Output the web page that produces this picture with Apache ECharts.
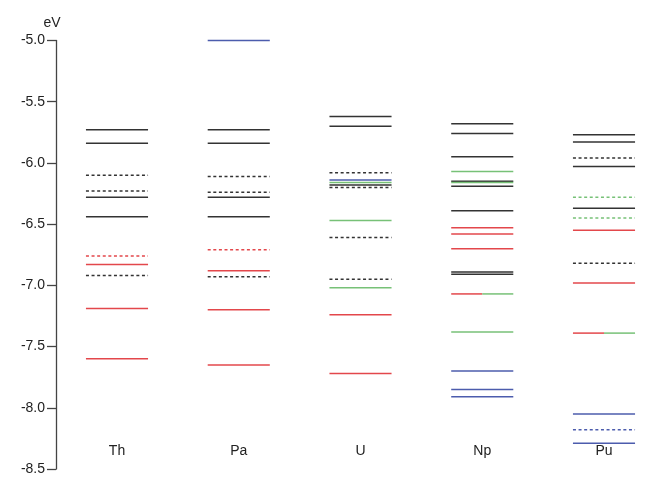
<!DOCTYPE html>
<html>
<head>
<meta charset="utf-8">
<script src="https://cdn.jsdelivr.net/npm/echarts@6/dist/echarts.min.js"></script>
<style>html,body{margin:0;padding:0;background:#fff}#c{width:654px;height:482px}</style>
</head>
<body>
<div id="c"></div>
<script>
const categories = ['Th', 'Pa', 'U', 'Np', 'Pu'];
const yTicks = [-8.5, -8.0, -7.5, -7.0, -6.5, -6.0, -5.5, -5.0];

const blackSolid = [
  ['Th', -5.73], ['Th', -5.84], ['Th', -6.28], ['Th', -6.44],
  ['Pa', -5.73], ['Pa', -5.84], ['Pa', -6.28], ['Pa', -6.44],
  ['U', -5.62], ['U', -5.70], ['U', -6.18],
  ['Np', -5.68], ['Np', -5.76], ['Np', -5.95], ['Np', -6.15], ['Np', -6.19], ['Np', -6.39], ['Np', -6.89], ['Np', -6.91],
  ['Pu', -5.77], ['Pu', -5.83], ['Pu', -6.03], ['Pu', -6.37]
];
const blackDashed = [
  ['Th', -6.10], ['Th', -6.23], ['Th', -6.92],
  ['Pa', -6.11], ['Pa', -6.24], ['Pa', -6.93],
  ['U', -6.08], ['U', -6.20], ['U', -6.61], ['U', -6.95],
  ['Pu', -5.96], ['Pu', -6.82]
];
const redSolid = [
  ['Th', -6.83], ['Th', -7.19], ['Th', -7.60],
  ['Pa', -6.88], ['Pa', -7.20], ['Pa', -7.65],
  ['U', -7.24], ['U', -7.72],
  ['Np', -6.53], ['Np', -6.58], ['Np', -6.70],
  ['Pu', -6.55], ['Pu', -6.98]
];
const redDashed = [['Th', -6.76], ['Pa', -6.71]];
const greenSolid = [
  ['U', -6.16], ['U', -6.47], ['U', -7.02],
  ['Np', -6.07], ['Np', -6.16], ['Np', -7.38]
];
const greenDashed = [['Pu', -6.28], ['Pu', -6.45]];
const blueSolid = [
  ['Pa', -5.00],
  ['U', -6.14],
  ['Np', -7.70], ['Np', -7.85], ['Np', -7.91],
  ['Pu', -8.05], ['Pu', -8.29]
];
const blueDashed = [['Pu', -8.18]];
const redGreenSplit = [['Np', -7.07], ['Pu', -7.39]];

const COLORS = { k: '#333333', r: '#e3474b', g: '#77c177', b: '#4c5cad' };
const HALF = 0.255;

function toData(arr) {
  return arr.map(d => [categories.indexOf(d[0]), d[1]]);
}

function levelSeries(name, arr, color, dashed) {
  return {
    type: 'custom',
    name: name,
    data: toData(arr),
    renderItem: function (params, api) {
      const p = api.coord([api.value(0), api.value(1)]);
      const w = api.size([1, 0])[0] * HALF;
      return {
        type: 'line',
        shape: { x1: p[0] - w, y1: p[1], x2: p[0] + w, y2: p[1] },
        style: { stroke: color, lineWidth: 1.5, lineDash: dashed ? [3, 2.6] : null }
      };
    }
  };
}

function splitSeries(name, arr, leftColor, rightColor) {
  return {
    type: 'custom',
    name: name,
    data: toData(arr),
    renderItem: function (params, api) {
      const p = api.coord([api.value(0), api.value(1)]);
      const w = api.size([1, 0])[0] * HALF;
      return {
        type: 'group',
        children: [
          { type: 'line', shape: { x1: p[0] - w, y1: p[1], x2: p[0], y2: p[1] }, style: { stroke: leftColor, lineWidth: 1.5 } },
          { type: 'line', shape: { x1: p[0], y1: p[1], x2: p[0] + w, y2: p[1] }, style: { stroke: rightColor, lineWidth: 1.5 } }
        ]
      };
    }
  };
}

const chart = echarts.init(document.getElementById('c'), null, { renderer: 'canvas' });
chart.setOption({
  animation: false,
  backgroundColor: '#ffffff',
  textStyle: { fontFamily: 'Liberation Sans, Arial, sans-serif' },
  grid: { left: 117, right: 50, top: 40.5, bottom: 13 },
  xAxis: {
    type: 'category',
    data: categories,
    boundaryGap: false,
    offset: -32,
    axisLine: { show: false },
    axisTick: { show: false },
    splitLine: { show: false },
    axisLabel: { color: '#222', fontSize: 14, margin: 7, fontFamily: 'Liberation Sans, Arial, sans-serif' }
  },
  yAxis: {
    type: 'value',
    min: yTicks[0],
    max: yTicks[yTicks.length - 1],
    interval: 0.5,
    offset: 61,
    name: 'eV',
    nameLocation: 'end',
    nameGap: 10,
    nameTextStyle: { color: '#222', fontSize: 14, fontFamily: 'Liberation Sans, Arial, sans-serif', align: 'center', padding: [0, 0, 0, -8] },
    axisLine: { show: true, lineStyle: { color: '#444', width: 1.3 } },
    axisTick: { show: true, length: 9, lineStyle: { color: '#444', width: 1.3 } },
    splitLine: { show: false },
    axisLabel: { color: '#222', fontSize: 14, margin: 11, fontFamily: 'Liberation Sans, Arial, sans-serif', formatter: v => v.toFixed(1) }
  },
  series: [
    levelSeries('blackSolid', blackSolid, COLORS.k, false),
    levelSeries('blackDashed', blackDashed, COLORS.k, true),
    levelSeries('redSolid', redSolid, COLORS.r, false),
    levelSeries('redDashed', redDashed, COLORS.r, true),
    levelSeries('greenSolid', greenSolid, COLORS.g, false),
    levelSeries('greenDashed', greenDashed, COLORS.g, true),
    levelSeries('blueSolid', blueSolid, COLORS.b, false),
    levelSeries('blueDashed', blueDashed, COLORS.b, true),
    splitSeries('redGreenSplit', redGreenSplit, COLORS.r, COLORS.g)
  ]
});
</script>
</body>
</html>
